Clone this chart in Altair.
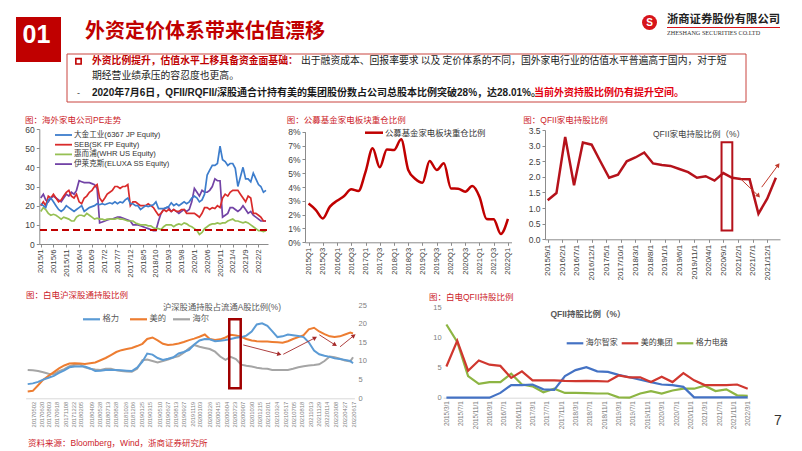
import altair as alt
import pandas as pd

W, H = 786, 441
M = 8


def px(v):
    return v - M


def ms(s):
    return int(pd.Timestamp(s).value // 10**6)


CJK = "Noto Sans CJK SC"
MIX = "Liberation Sans, Noto Sans CJK SC"
DARK_RED = "#C00000"
TITLE_RED = "#CC2229"

# ---------------- data ----------------
# Chart 1: overseas appliance makers PE (monthly)
pe_dates = list(pd.date_range("2015-01-01", periods=89, freq="MS").strftime("%Y-%m-%d"))
pe_names = ["大金工业(6367 JP Equity)", "SEB(SK FP Equity)", "惠而浦(WHR US Equity)", "伊莱克斯(ELUXA SS Equity)"]
pe_colors = ["#3D7DCC", "#D92B2B", "#96C054", "#7243A6"]
pe_daikin = [21, 20, 19, 23, 24, 22, 20, 18, 17, 18, 20, 19,
             18, 17, 18, 19, 20, 17, 18, 19, 19.5, 20, 21, 20.5,
             21, 20.5, 21, 21.5, 21, 22, 21, 22, 21.5, 23, 24, 21,
             21, 20, 20, 18, 19, 20, 19.5, 20, 20.5, 22, 18.5, 18.5,
             18.5, 19, 19.5, 21.5, 20, 21, 20, 21, 22, 21, 22, 24,
             25, 24, 22, 23, 26, 36, 38.5, 41, 41, 42, 51, 44,
             43, 41, 42, 42, 39.5, 30, 35, 40, 34, 34, 32.5, 37,
             34, 31, 30, 27, 28]
pe_seb = [20, 22, 20, 25, 24, 26, 24, 22, 23, 25, 27, 28,
          25, 24, 26, 22, 21, 24, 25, 27, 28, 30, 31, 24,
          22, 24, 26, 27, 28, 30, 30, 29, 30, 30, 31, 20,
          22, 22, 21, 20, 20, 20, 21, 20, 19, 17, 15, 16,
          18, 17, 18, 17, 18, 17, 17, 18, 18, 16, 16, 16,
          16, 15, 14, 16, 19, 19, 18, 19, 18.5, 20, 19, 24,
          26, 25, 27, 28, 28, 28, 26, 24, 22, 25, 24, 16,
          16, 15, 14, 12, 12]
pe_whirlpool = [17, 19, 18, 16, 15, 15.5, 15, 14, 13, 14, 13.5, 13,
                12, 12, 14, 15, 15, 14.5, 16, 15, 14, 13, 13.5, 13,
                13, 12.5, 13, 13, 13, 13, 13.5, 13, 13, 12.5, 12, 12,
                12, 11, 10.5, 10, 10, 10, 9.5, 9.5, 8.5, 8, 8, 7.5,
                9, 10, 10, 10, 9, 10, 10.5, 10, 11, 10.5, 9.5, 9,
                8, 7, 5, 6, 8, 9, 10, 10.5, 10.5, 11, 10.5, 11,
                11, 12, 12.5, 13, 12, 12, 11.5, 11, 11.5, 11, 10, 9,
                8, 7, 7, 6.5, 7]
pe_electrolux = [24, 26, 23, 22, 24, 25, 24, 23, 22, 24, 26, 25,
                 27, 26, 28, 33, 32.5, 32, 32, 32, 31.5, 31, 29, 11,
                 11.5, 12, 12.5, 13, 13, 13.5, 14, 14, 13.5, 13, 12.5, 12,
                 10, 10, 10, 9.5, 9, 8.5, 8, 7.5, 7, 7, 12, 16,
                 18, 19, 19, 17, 18, 17, 16, 17, 18, 17, 18, 22,
                 29, 27, 25, 28, 27, 27, 28, 30, 34, 33, 33, 14,
                 15, 16, 19, 19, 18, 17, 18, 20, 18, 16, 17, 15,
                 14, 13, 12, 12, 12]
pe_floor = 7.3
pe_ticks = list(pd.date_range("2015-01-01", periods=18, freq="5MS").strftime("%Y-%m-%d"))

# Chart 2: public fund overweight ratio in appliances (%)
fund_quarters = [f"{y}Q{q}" for y in range(2015, 2023) for q in range(1, 5)][:29]
fund_share = [2.8, 2.35, 1.72, 2.58, 3.0, 3.35, 3.83, 3.71, 5.1, 6.8, 5.42, 6.72, 6.67, 7.45,
              5.23, 4.58, 4.31, 5.88, 5.23, 5.71, 3.9, 3.88, 3.66, 4.07, 3.3, 1.69, 1.66, 0.6, 1.69]
fund_label = "公募基金家电板块重仓比例"

# Chart 3: QFII appliance holding ratio (%)
qfii_dates = list(pd.date_range("2015-09-01", periods=27, freq="3MS").strftime("%Y-%m-%d"))
qfii_share = [1.25, 1.48, 3.28, 1.73, 3.1, 3.03, 2.5, 1.97, 2.07, 2.5, 2.62, 2.78, 2.43, 2.38,
              2.35, 2.25, 2.15, 1.97, 2.02, 1.88, 2.12, 1.97, 1.93, 1.92, 0.82, 1.3, 1.97]
qfii_ticks = list(pd.date_range("2015-09-01", periods=16, freq="5MS").strftime("%Y-%m-%d"))
qfii_box = ["2020-08-13", "2020-12-03", 0.28, 3.11]
qfii_arrows = [["2021-03-01", 1.93, "2021-09-01", 1.39], ["2021-10-05", 1.67, "2022-03-25", 2.38]]

# Chart 4: Stock Connect holding of free float A shares (%)
hk_dates = list(pd.date_range("2017-04-01", periods=63, freq="MS").strftime("%Y-%m-%d")) + ["2022-06-17"]
hk_names = ["格力", "美的", "海尔"]
hk_colors = ["#5B9BD5", "#ED7D31", "#A5A5A5"]
hk_gree = [3.8, 4.0, 4.4, 5.0, 5.5, 6.0, 6.8, 7.5, 8.3, 8.5, 8.5, 8.5, 8.0, 7.3, 7.4, 7.6,
           7.6, 7.6, 7.5, 7.4, 7.3, 8.2, 9.8, 12.0, 11.7, 10.8, 10.3, 10.6, 11.0, 12.0, 12.4, 13.0,
           14.4, 15.5, 15.9, 15.8, 15.3, 15.4, 15.6, 15.9, 16.2, 16.4, 16.8, 17.9, 19.8, 20.1, 19.4, 18.0,
           16.4, 16.6, 17.1, 16.9, 16.7, 16.4, 15.0, 12.8, 11.8, 11.4, 11.1, 10.7, 10.5, 10.3, 10.0, 9.4]
hk_midea = [1.8, 2.0, 3.5, 5.0, 6.0, 7.0, 8.0, 8.8, 9.3, 9.4, 9.3, 9.2, 9.4, 9.6, 10.2, 10.8,
            11.6, 12.4, 12.9, 13.2, 13.5, 14.0, 14.6, 15.9, 16.3, 15.5, 14.6, 14.3, 14.4, 14.7, 15.1, 15.6,
            16.0, 16.5, 17.1, 15.9, 15.6, 15.8, 16.3, 17.0, 16.8, 16.5, 15.9, 15.5, 15.3, 15.2, 15.2, 15.1,
            15.0, 14.9, 15.3, 15.9, 16.4, 16.9, 18.5, 18.9, 17.9, 17.2, 16.6, 16.4, 16.6, 17.1, 17.6, 17.4]
hk_haier = [7.6, 7.5, 7.3, 7.0, 6.6, 6.5, 7.3, 7.8, 8.6, 9.0, 9.1, 8.3, 7.9, 7.7, 7.6, 7.9,
            7.9, 7.5, 7.3, 7.2, 7.1, 7.9, 10.2, 10.4, 10.0, 9.6, 10.0, 10.4, 10.9, 11.3, 12.2, 13.4,
            14.3, 13.8, 13.5, 13.2, 12.5, 11.2, 10.3, 11.1, 10.5, 9.0, 8.7, 8.5, 8.2, 8.0, 7.9, 7.6,
            7.6, 7.6, 7.6, 7.9, 8.3, 8.6, 8.8, 8.9, 9.1, 10.0, 11.2, 11.0, 10.6, 10.1, 9.9, 11.0]
hk_ticks = ["2017-05-02", "2017-06-20", "2017-08-03", "2017-09-18", "2017-11-08", "2017-12-22",
            "2018-02-05", "2018-04-09", "2018-05-28", "2018-07-13", "2018-08-28", "2018-10-26",
            "2018-12-06", "2019-01-25", "2019-03-15", "2019-05-10", "2019-06-27", "2019-08-13",
            "2019-09-27", "2019-11-19", "2020-01-03", "2020-02-26", "2020-04-15", "2020-06-04",
            "2020-07-23", "2020-09-07", "2020-10-30", "2020-12-15", "2021-02-01", "2021-03-24",
            "2021-05-17", "2021-07-05", "2021-08-18", "2021-10-13", "2021-11-29", "2022-01-14",
            "2022-03-08", "2022-04-27", "2022-06-17"]
hk_box = ["2020-06-23", "2020-08-29", 2.7, 21.2]
hk_arrows = [["2020-09-13", 14.3, "2021-04-12", 11.8], ["2021-05-05", 11.8, "2021-11-07", 16.2],
             ["2021-12-02", 17.0, "2022-03-04", 14.3], ["2022-04-02", 13.8, "2022-06-22", 16.8]]

# Chart 5: QFII holding ratio of white-goods makers (%)
wq_dates = list(pd.date_range("2015-03-01", periods=29, freq="3MS").strftime("%Y-%m-%d"))
wq_names = ["海尔智家", "美的集团", "格力电器"]
wq_colors = ["#4472C4", "#D0372F", "#8DB543"]
wq_haier = [0, 0, 0, 0, 0, 0.8, 2.1, 2.1, 2.2, 1.4, 1.3, 3.6, 4.6, 5.1, 4.4, 4.3, 3.8, 3.4, 3.0,
            2.6, 2.2, 2.1, 1.8, 0.05, 0.05, 0.05, 0.05, 0.05, 0.05]
wq_midea = [5.2, 9.5, 4.5, 6.2, 5.5, 5.3, 3.3, 4.4, 2.9, 2.9, 2.9, 2.8, 2.75, 2.8, 2.75, 2.7, 3.7,
            3.4, 3.4, 2.6, 3.5, 2.6, 4.1, 2.9, 2.1, 2.1, 2.1, 2.2, 1.5]
wq_gree = [12.2, 9.3, 3.6, 2.3, 2.6, 2.6, 4.0, 2.2, 1.9, 0.9, 1.5, 0.8, 0.8, 0.75, 0.7, 0.7, 0.05,
           0.0, 0.7, 1.1, 0.7, 1.2, 1.5, 1.5, 2.0, 1.1, 1.4, 0.4, 0.3]
wq_ticks = list(pd.date_range("2015-03-01", "2022-03-01", freq="4MS").strftime("%Y-%m-%d"))

# ---------------- helpers ----------------
one = pd.DataFrame({"k": [0]})


def txt(s, x, y, size, color, weight="normal", align="left", font=MIX, baseline="middle"):
    return alt.Chart(pd.DataFrame({"t": [s]})).mark_text(
        align=align, baseline=baseline, fontSize=size, font=font,
        fontWeight=weight, color=color,
    ).encode(x=alt.value(px(x)), y=alt.value(px(y)), text="t:N")


def hline(x0, x1, y, color, width=1.0, dash=None):
    kw = dict(color=color, strokeWidth=width)
    if dash:
        kw["strokeDash"] = dash
    return alt.Chart(one).mark_rule(**kw).encode(
        x=alt.value(px(x0)), x2=alt.value(px(x1)), y=alt.value(px(y)))


def box(x0, y0, x1, y1, fill, stroke=None, sw=0, fill_opacity=1):
    kw = dict(fill=fill, fillOpacity=fill_opacity)
    if stroke:
        kw.update(stroke=stroke, strokeWidth=sw)
    return alt.Chart(one).mark_rect(**kw).encode(
        x=alt.value(px(x0)), x2=alt.value(px(x1)), y=alt.value(px(y0)), y2=alt.value(px(y1)))


def legend_item(x0, x1, y, color, label, size, tcolor, width=2.0, gap=2.0):
    return [hline(x0, x1, y, color, width), txt(label, x1 + gap, y, size, tcolor)]


def ax(orient, offset, values=None, fmt=None, angle=0, size=8.0,
       domain=True, ticks=True, color="#404040", pad=2, tick_size=3, dom_color="#8C8C8C",
       label_expr=None):
    kw = dict(orient=orient, offset=offset, title=None, grid=False, labelFontSize=size,
              labelFont="Liberation Sans", labelColor=color, labelPadding=pad, labelAngle=angle,
              labelOverlap=False, labelFlush=False, domain=domain, ticks=ticks,
              domainColor=dom_color, tickColor=dom_color, tickSize=tick_size if ticks else 0)
    if values is not None:
        kw["values"] = values
    if fmt:
        kw["format"] = fmt
    if label_expr:
        kw["labelExpr"] = label_expr
    return alt.Axis(**kw)


def date_labels(pattern):
    return "utcFormat(datum.value, '" + pattern + "')"


def utc_scale(d0, d1, r0, r1):
    return alt.Scale(type="utc", domain=[ms(d0), ms(d1)], range=[px(r0), px(r1)], nice=False)


def lin_scale(d0, d1, r0, r1):
    return alt.Scale(domain=[d0, d1], range=[px(r0), px(r1)], nice=False, zero=False)


def arrow(xs, ys, a, color, angle, width=1.0, head=28):
    d = pd.DataFrame({"x0": [a[0]], "y0": [a[1]], "x1": [a[2]], "y1": [a[3]]})
    line = alt.Chart(d).mark_rule(color=color, strokeWidth=width).encode(
        x=alt.X("x0:T", scale=xs, axis=None), x2="x1:T",
        y=alt.Y("y0:Q", scale=ys, axis=None), y2="y1:Q")
    tip = alt.Chart(d).mark_point(shape="triangle-up", filled=True, size=head, color=color,
                                  angle=angle, opacity=1).encode(
        x=alt.X("x1:T", scale=xs, axis=None), y=alt.Y("y1:Q", scale=ys, axis=None))
    return [line, tip]


def rect_ann(xs, ys, b, color, width=2.0):
    d = pd.DataFrame({"x0": [b[0]], "x1": [b[1]], "y0": [b[2]], "y1": [b[3]]})
    return alt.Chart(d).mark_rect(fill="white", fillOpacity=0, stroke=color, strokeWidth=width).encode(
        x=alt.X("x0:T", scale=xs, axis=None), x2="x1:T",
        y=alt.Y("y0:Q", scale=ys, axis=None), y2="y1:Q")


layers = []

# ---------------- header ----------------
layers += [
    box(16, 17, 61, 62, DARK_RED),
    txt("01", 36.5, 35, 25, "white", "bold", "center", font="Liberation Sans"),
    txt("外资定价体系带来估值漂移", 85, 32, 20, DARK_RED, "bold", font=CJK),
    alt.Chart(one).mark_circle(size=225, color="#D7141A", opacity=1).encode(
        x=alt.value(px(649.5)), y=alt.value(px(22.5))),
    txt("S", 649.5, 23, 10, "white", "bold", "center", font="Liberation Sans"),
    txt("浙商证券股份有限公司", 667, 20, 11.3, "#222222", "bold", font=CJK),
    hline(667, 780, 27.5, "#D7141A", 1),
    txt("ZHESHANG SECURITIES CO.LTD", 667, 33, 6.2, "#333333", font="Liberation Serif"),
    box(67, 54, 746, 102, "white", "#C9443F", 1),
    alt.Chart(one).mark_point(shape="square", filled=False, size=28, color=DARK_RED,
                              strokeWidth=1.6, opacity=1).encode(
        x=alt.value(px(78.5)), y=alt.value(px(61.3))),
    txt("外资比例提升，估值水平上移具备资金面基础：", 92, 61.3, 9.8, DARK_RED, "bold", font=CJK),
    txt("出于融资成本、回报率要求 以及 定价体系的不同，国外家电行业的估值水平普遍高于国内，对于短",
        301, 61.3, 9.8, "#1A1A1A", font=CJK),
    txt("期经营业绩承压的容忍度也更高。", 92, 75.7, 9.8, "#1A1A1A", font=CJK),
    txt("-", 77, 93.3, 9, "#404040"),
    txt("2020年7月6日，QFII/RQFII/深股通合计持有美的集团股份数占公司总股本比例突破28%，达28.01%。",
        92, 93.3, 10, "#1A1A1A", "bold"),
    txt("当前外资持股比例仍有提升空间。", 534, 93.3, 10, "#E3000F", "bold", font=CJK),
]

# ---------------- chart 1 ----------------
S1x = utc_scale("2014-12-15", "2022-05-25", 39.3, 268)
S1y = lin_scale(0, 60, 244, 129)
pe_df = pd.concat([pd.DataFrame({"date": pe_dates, "pe": v, "co": n})
                   for n, v in zip(pe_names[::-1], [pe_electrolux, pe_whirlpool, pe_seb, pe_daikin])])
layers.append(alt.Chart(pe_df).mark_line(strokeWidth=1.7).encode(
    x=alt.X("date:T", scale=S1x,
            axis=ax("bottom", px(244) - H, values=[ms(t) for t in pe_ticks],
                    label_expr=date_labels("%Y/%-m"), angle=-90, size=7.8)),
    y=alt.Y("pe:Q", scale=S1y, axis=ax("left", -px(39.3), values=list(range(0, 61, 10)), size=8.5)),
    color=alt.Color("co:N", scale=alt.Scale(domain=pe_names, range=pe_colors), legend=None),
))
layers.append(alt.Chart(pd.DataFrame({"v": [pe_floor]})).mark_rule(
    color=DARK_RED, strokeWidth=2, strokeDash=[7, 4]).encode(
    y=alt.Y("v:Q", scale=S1y, axis=None), x=alt.value(px(40)), x2=alt.value(px(267))))
for i, (n, c) in enumerate(zip(pe_names, pe_colors)):
    layers += legend_item(55, 72, 135 + 9.7 * i, c, n, 7.6, "#333333", width=1.8)
layers.append(txt("图：海外家电公司PE走势", 25, 120, 8.5, TITLE_RED))

# ---------------- chart 2 ----------------
S2x = alt.Scale(type="point", domain=fund_quarters, range=[px(305), px(511.5)], padding=0.5)
S2y = lin_scale(0, 8, 242.3, 131.7)
fund_df = pd.DataFrame({"q": fund_quarters, "v": fund_share})
layers.append(alt.Chart(fund_df).mark_line(strokeWidth=2.5, color=DARK_RED, interpolate="monotone").encode(
    x=alt.X("q:O", scale=S2x, sort=fund_quarters,
            axis=ax("bottom", px(242.3) - H, values=fund_quarters[::2], angle=-90, size=7.6)),
    y=alt.Y("v:Q", scale=S2y, axis=ax("left", -px(305), values=list(range(0, 9)), size=8.5,
                                      label_expr="datum.value + '%'")),
))
layers += legend_item(365, 383, 132.7, DARK_RED, fund_label, 8.4, "#333333", width=2.5)
layers.append(txt("图：公募基金家电板块重仓比例", 286.7, 120, 8.5, TITLE_RED))

# ---------------- chart 3 ----------------
S3x = utc_scale("2015-08-04", "2022-04-13", 545, 780)
S3y = lin_scale(0, 3.5, 239.3, 130)
qf_df = pd.DataFrame({"d": qfii_dates, "v": qfii_share})
layers.append(alt.Chart(qf_df).mark_line(strokeWidth=2.5, color="#B5121B").encode(
    x=alt.X("d:T", scale=S3x,
            axis=ax("bottom", px(239.3) - H, values=[ms(t) for t in qfii_ticks],
                    label_expr=date_labels("%Y/%-m/%-d"), angle=-90, size=8)),
    y=alt.Y("v:Q", scale=S3y, axis=ax("left", -px(545), values=[0, 0.5, 1, 1.5, 2, 2.5, 3, 3.5],
                                      fmt=".1f", size=8.5)),
))
layers.append(rect_ann(S3x, S3y, qfii_box, "#B5121B", 2))
for a, ang in zip(qfii_arrows, [138.6, 36.7]):
    layers += arrow(S3x, S3y, a, "#C0392B", ang, 1.0, 26)
layers.append(txt("QFII家电持股比例（%）", 653, 134, 8.5, "#404040"))
layers.append(txt("图：QFII家电持股比例", 523.3, 120, 8.5, TITLE_RED))

# ---------------- chart 4 ----------------
S4x = utc_scale("2017-03-20", "2022-06-25", 25.65, 354.4)
S4y = lin_scale(0, 25, 398.3, 305)
hk_df = pd.concat([pd.DataFrame({"d": hk_dates, "v": v, "s": n})
                   for n, v in [("海尔", hk_haier), ("美的", hk_midea), ("格力", hk_gree)]])
layers.append(alt.Chart(hk_df).mark_line(strokeWidth=2).encode(
    x=alt.X("d:T", scale=S4x,
            axis=ax("bottom", px(398.3) - H, values=[ms(t) for t in hk_ticks],
                    label_expr=date_labels("%Y%m%d"), angle=-90, size=5.8, ticks=False,
                    color="#7F7F7F", dom_color="#D9D9D9", pad=3)),
    y=alt.Y("v:Q", scale=S4y, axis=ax("right", px(356) - W, values=[0, 5, 10, 15, 20, 25],
                                      size=7.5, domain=False, ticks=False, color="#7F7F7F", pad=2)),
    color=alt.Color("s:N", scale=alt.Scale(domain=hk_names, range=hk_colors), legend=None),
))
layers.append(rect_ann(S4x, S4y, hk_box, "#A00000", 2.5))
for a, ang in zip(hk_arrows, [104.5, 62.4, 122.5, 53.7]):
    layers += arrow(S4x, S4y, a, "#A52A2A", ang, 0.9, 24)
layers.append(txt("沪深股通持股占流通A股比例(%)", 163, 307.7, 8.3, "#595959"))
for (x0, x1), n, c in zip([(83, 100), (130, 147), (173, 190)], hk_names, hk_colors):
    layers += legend_item(x0, x1, 319.3, c, n, 8.3, "#595959", width=2.2, gap=2.5)
layers.append(txt("图：白电沪深股通持股比例", 26, 295, 8.5, TITLE_RED))

# ---------------- chart 5 ----------------
S5x = utc_scale("2015-02-01", "2022-03-01", 443.1, 747.7)
S5y = lin_scale(0, 15, 397.7, 307.7)
wq_df = pd.concat([pd.DataFrame({"d": wq_dates, "v": v, "s": n})
                   for n, v in [("格力电器", wq_gree), ("海尔智家", wq_haier), ("美的集团", wq_midea)]])
layers.append(alt.Chart(wq_df).mark_line(strokeWidth=2.2).encode(
    x=alt.X("d:T", scale=S5x,
            axis=ax("bottom", px(397.7) - H, values=[ms(t) for t in wq_ticks],
                    label_expr=date_labels("%Y/%-m/%-d"), angle=-90, size=6.4, ticks=False,
                    color="#7F7F7F", dom_color="#D9D9D9", pad=3)),
    y=alt.Y("v:Q", scale=S5y, axis=ax("left", -px(443.1), values=[0, 5, 10, 15], size=7.5,
                                      domain=False, ticks=False, color="#7F7F7F", pad=2)),
    color=alt.Color("s:N", scale=alt.Scale(domain=wq_names, range=wq_colors), legend=None),
))
layers.append(txt("QFII持股比例（%）", 588, 314.3, 8.5, "#595959", "bold", "center"))
for (x0, x1), n, c in zip([(566.7, 583.3), (621.7, 638.3), (676.7, 693.3)], wq_names, wq_colors):
    layers += legend_item(x0, x1, 343.3, c, n, 8, "#404040", width=2.2, gap=2.5)
layers.append(txt("图：白电QFII持股比例", 429, 296.7, 8.5, TITLE_RED))

# ---------------- footer ----------------
layers.append(txt("资料来源：Bloomberg，Wind，浙商证券研究所", 28, 443, 8.5, TITLE_RED))
layers.append(txt("7", 778, 421, 14, "#333333", align="center", font="Liberation Sans"))

chart = alt.layer(*layers).resolve_scale(
    x="independent", y="independent", color="independent"
).resolve_axis(
    x="independent", y="independent"
).properties(
    width=W, height=H, autosize=alt.AutoSizeParams(type="none"), padding=0, background="white"
).configure_view(strokeWidth=0).configure_axis(grid=False)

chart.save("out.html", embed_options={"renderer": "svg", "actions": False})
